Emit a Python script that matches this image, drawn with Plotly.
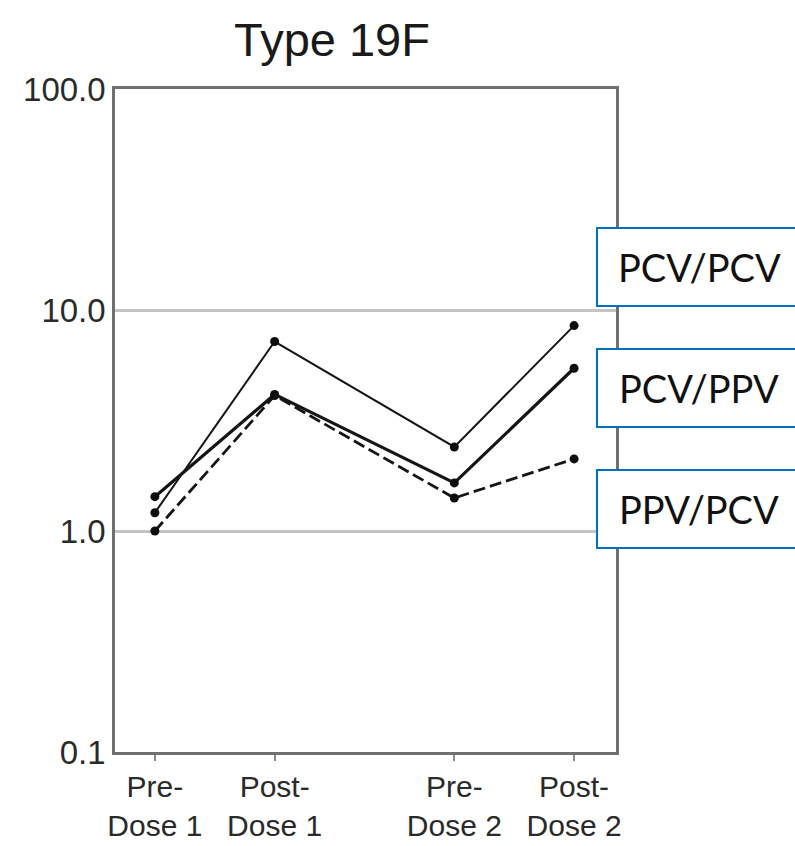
import plotly.graph_objects as go

# ---- data ----
time_points = [0, 1, 2.5, 3.5]
tick_labels = ["Pre-<br>Dose 1", "Post-<br>Dose 1", "Pre-<br>Dose 2", "Post-<br>Dose 2"]
pcv_pcv = [1.21, 7.2, 2.4, 8.5]
pcv_ppv = [1.43, 4.15, 1.65, 5.45]
ppv_pcv = [1.0, 4.1, 1.41, 2.12]
series_names = ["PCV/PCV", "PCV/PPV", "PPV/PCV"]
y_ticks = [0.1, 1, 10, 100]
y_tick_text = ["0.1", "1.0", "10.0", "100.0"]

FONT = "Liberation Sans, Arial, sans-serif"

fig = go.Figure()
styles = [
    dict(width=2.0, dash="solid"),
    dict(width=3.2, dash="solid"),
    dict(width=2.8, dash="12px,5px"),
]
for name, vals, st in zip(series_names, [pcv_pcv, pcv_ppv, ppv_pcv], styles):
    fig.add_trace(go.Scatter(
        x=time_points, y=vals, name=name, mode="lines+markers",
        line=dict(color="#151515", width=st["width"], dash=st["dash"]),
        marker=dict(color="#0d0d0d", size=9, symbol="circle"),
        showlegend=False,
    ))

fig.update_layout(
    width=795, height=846,
    margin=dict(l=115, r=179, t=89, b=94, autoexpand=False),
    paper_bgcolor="white", plot_bgcolor="white",
    font=dict(family=FONT, color="#222222"),
    title=dict(text="Type 19F", x=332 / 795, xanchor="center",
               y=1 - 40 / 846, yanchor="middle",
               font=dict(family=FONT, size=47, color="#1a1a1a")),
)
fig.update_xaxes(
    range=[-0.333, 3.85], tickmode="array", tickvals=time_points, ticktext=tick_labels,
    showgrid=False, zeroline=False, automargin=False,
    showline=True, linecolor="#707070", linewidth=2.5, mirror=True,
    ticks="outside", ticklen=6, tickcolor="#888888", tickwidth=1.5,
    tickfont=dict(family=FONT, size=30, color="#2a2a2a"),
)
fig.update_yaxes(
    type="log", range=[-1, 2], tickmode="array", tickvals=y_ticks, ticktext=y_tick_text,
    showgrid=True, gridcolor="#c4c4c4", gridwidth=3, automargin=False,
    zeroline=False, showline=True, linecolor="#707070", linewidth=2.5, mirror=True,
    ticks="", tickfont=dict(family=FONT, size=33, color="#2a2a2a"),
)

# label boxes on the right
boxes = [(228, 306), (349, 427), (470, 548)]
for name, (top_px, bot_px) in zip(series_names, boxes):
    y0 = (752 - bot_px) / 663
    y1 = (752 - top_px) / 663
    fig.add_shape(type="rect", xref="paper", yref="paper",
                  x0=(597 - 115) / 501, x1=(810 - 115) / 501, y0=y0, y1=y1,
                  line=dict(color="#0070C0", width=2), fillcolor="white", layer="above")
    fig.add_annotation(xref="paper", yref="paper", x=(699 - 115) / 501, y=(y0 + y1) / 2,
                       text=name, showarrow=False, xanchor="center", yanchor="middle",
                       font=dict(family="Lato, Open Sans, sans-serif", size=38, color="#111111"))

fig.write_html("out.html")
